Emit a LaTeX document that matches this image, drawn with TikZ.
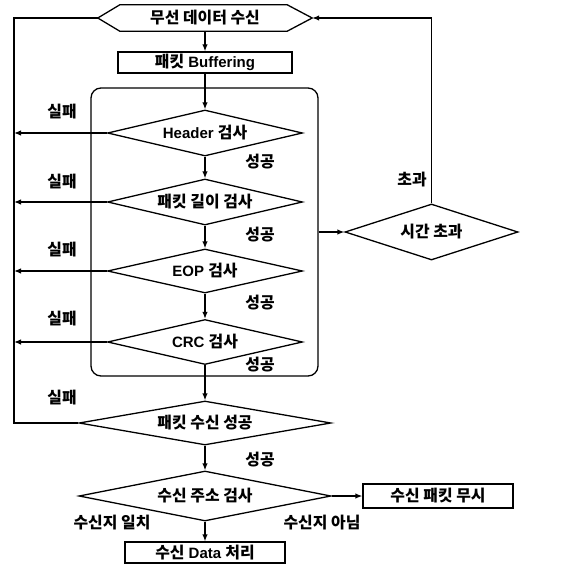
\documentclass[tikz,border=0pt]{standalone}
\usepackage{fontspec}
\setmainfont{Liberation Sans}
\newfontfamily\kr[Scale=1.06]{Noto Sans CJK KR}
\newcommand\K[1]{{\kr #1}}
\usetikzlibrary{shapes.geometric,arrows.meta,calc}
\begin{document}
\begin{tikzpicture}[x=1pt,y=-1pt,
  every node/.style={font=\fontsize{15}{17}\selectfont\bfseries},
  line/.style={line width=1.3pt},
  arr/.style={line, -{Latex[length=7pt,width=5.5pt]}},
  dec/.style={diamond, aspect=6, draw, line width=1.3pt, inner sep=0pt},
  proc/.style={rectangle, draw, line width=1.3pt, inner sep=0pt},
  lbl/.style={inner sep=0pt}
]
\useasboundingbox (0,0) rectangle (573,567);
% panel
\node[draw, line width=1.3pt, rounded corners=10pt, minimum width=227pt, minimum height=288pt, inner sep=0pt] (panel) at (204.5,232) {};
% start hexagon
\node[minimum width=214pt, minimum height=26pt, inner sep=0pt] (start) at (205,18) {\K{무선 데이터 수신}};
\draw[line] (start.west) -- ([xshift=22pt]start.north west) -- ([xshift=-25pt]start.north east) -- (start.east) -- ([xshift=-25pt]start.south east) -- ([xshift=22pt]start.south west) -- cycle;
\node[proc, minimum width=174pt, minimum height=21pt] (buf) at (205,62.5) {\K{패킷} Buffering};
\node[dec, minimum width=195pt, minimum height=46pt] (d1) at (205,133) {Header \K{검사}};
\node[dec, minimum width=195pt, minimum height=46pt] (d2) at (205,202) {\K{패킷 길이 검사}};
\node[dec, minimum width=195pt, minimum height=44pt] (d3) at (205,271) {EOP \K{검사}};
\node[dec, minimum width=195pt, minimum height=45pt] (d4) at (205,342) {CRC \K{검사}};
\node[dec, minimum width=252pt, minimum height=44pt] (d5) at (205,423) {\K{패킷 수신 성공}};
\node[dec, minimum width=252pt, minimum height=50pt] (d6) at (205,496) {\K{수신 주소 검사}};
\node[proc, minimum width=150pt, minimum height=24pt] (ignore) at (438,496) {\K{수신 패킷 무시}};
\node[proc, minimum width=160pt, minimum height=21pt] (data) at (205,552.5) {\K{수신} Data \K{처리}};
\node[dec, minimum width=173pt, minimum height=56pt] (timeout) at (431.5,232) {\K{시간 초과}};
\coordinate (L) at (14,0);
% connectors
\draw[arr] (start.south) -- (buf.north);
\draw[arr] (buf.south) -- (d1.north);
\draw[arr] (d1.south) -- (d2.north);
\draw[arr] (d2.south) -- (d3.north);
\draw[arr] (d3.south) -- (d4.north);
\draw[arr] (d4.south) -- (d5.north);
\draw[arr] (d5.south) -- (d6.north);
\draw[arr] (d6.south) -- (data.north);
\draw[arr] (d6.east) -- (ignore.west);
\draw[arr] (panel.east) -- (timeout.west);
\draw[arr] (timeout.north) |- (start.east);
\draw[arr] (d1.west) -- (d1.west -| L);
\draw[arr] (d2.west) -- (d2.west -| L);
\draw[arr] (d3.west) -- (d3.west -| L);
\draw[arr] (d4.west) -- (d4.west -| L);
\draw[line] (d5.west) -- (d5.west -| L) -- (start.west -| L) -- (start.west);
% labels
\foreach \y/\n in {112/f1,182/f2,250/f3,319/f4,398/f5} \node[lbl] (\n) at (62,\y) {\K{실패}};
\foreach \y/\n in {162/s1,235/s2,303/s3,365/s4,460/s5} \node[lbl] (\n) at (260,\y) {\K{성공}};
\node[lbl] (over) at (412,180) {\K{초과}};
\node[lbl] (match) at (112,523) {\K{수신지 일치}};
\node[lbl] (nomatch) at (322,523) {\K{수신지 아님}};
\end{tikzpicture}
\end{document}
